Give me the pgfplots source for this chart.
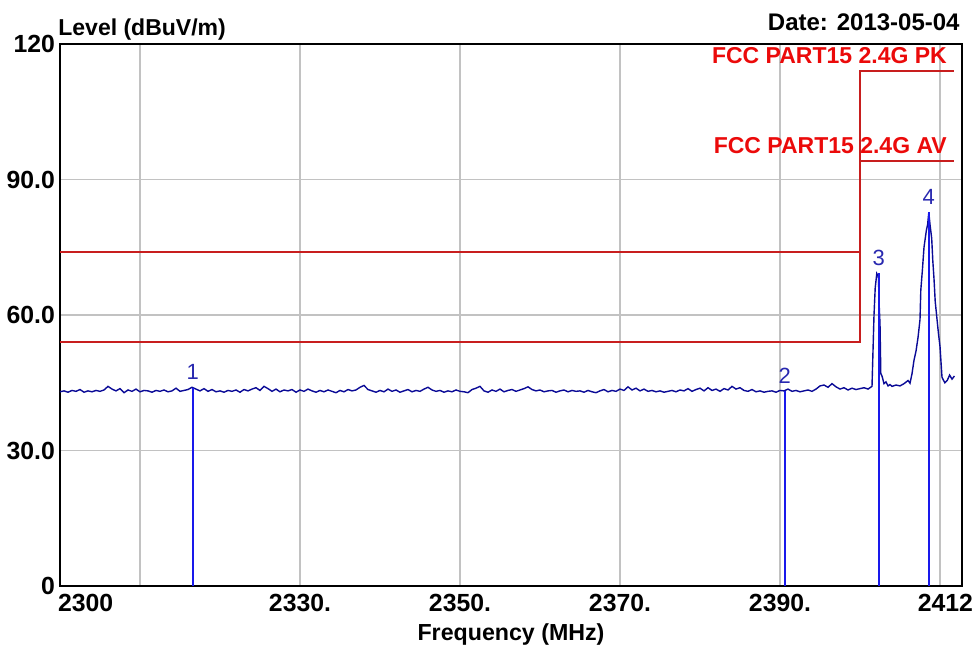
\documentclass[border=0pt]{standalone}
\usepackage{fontspec}
\setmainfont{Liberation Sans}
\usepackage{pgfplots}
\pgfplotsset{compat=1.18}
\usepackage{pgfplotstable}

\definecolor{tracec}{RGB}{10,10,150}
\definecolor{markc}{RGB}{25,25,235}
\definecolor{limitc}{RGB}{200,30,30}
\definecolor{fccred}{RGB}{235,10,10}
\definecolor{numc}{RGB}{40,40,175}

\pgfplotstableread{
f lv
2300.0 43.0
2300.5 43.2
2301.0 42.9
2301.5 43.3
2302.0 43.1
2302.5 43.5
2303.0 42.9
2303.5 43.2
2304.0 43.0
2304.5 43.3
2305.0 43.1
2305.5 43.4
2306.0 44.2
2306.5 43.6
2307.0 43.2
2307.5 43.7
2308.0 42.8
2308.5 43.4
2309.0 43.1
2309.5 43.6
2310.0 43.0
2310.5 43.3
2311.0 43.2
2311.5 42.9
2312.0 43.3
2312.5 43.1
2313.0 43.4
2313.5 43.0
2314.0 43.2
2314.5 43.8
2315.0 43.1
2315.5 43.3
2316.0 43.5
2316.5 44.0
2317.0 43.6
2317.5 43.2
2318.0 43.7
2318.5 43.1
2319.0 43.5
2319.5 43.0
2320.0 43.2
2320.5 42.9
2321.0 43.3
2321.5 43.1
2322.0 43.4
2322.5 42.9
2323.0 43.5
2323.5 43.2
2324.0 43.6
2324.5 43.9
2325.0 43.3
2325.5 44.2
2326.0 43.7
2326.5 43.1
2327.0 43.6
2327.5 43.0
2328.0 43.4
2328.5 43.2
2329.0 43.5
2329.5 42.9
2330.0 43.4
2330.5 43.1
2331.0 43.6
2331.5 43.2
2332.0 42.9
2332.5 43.3
2333.0 43.0
2333.5 43.4
2334.0 43.1
2334.5 42.8
2335.0 43.3
2335.5 43.0
2336.0 43.5
2336.5 43.2
2337.0 43.4
2337.5 44.0
2338.0 44.4
2338.5 43.5
2339.0 43.2
2339.5 42.9
2340.0 43.3
2340.5 43.0
2341.0 43.6
2341.5 43.1
2342.0 43.4
2342.5 42.9
2343.0 43.2
2343.5 43.5
2344.0 43.0
2344.5 43.3
2345.0 43.1
2345.5 43.6
2346.0 44.0
2346.5 43.4
2347.0 43.1
2347.5 43.3
2348.0 42.9
2348.5 43.2
2349.0 43.0
2349.5 43.4
2350.0 43.1
2350.5 43.0
2351.0 42.8
2351.5 43.5
2352.0 43.8
2352.5 44.2
2353.0 43.2
2353.5 42.9
2354.0 43.4
2354.5 43.1
2355.0 43.6
2355.5 43.0
2356.0 43.3
2356.5 43.5
2357.0 43.1
2357.5 43.4
2358.0 43.7
2358.5 44.1
2359.0 43.5
2359.5 43.2
2360.0 43.4
2360.5 43.0
2361.0 43.2
2361.5 43.3
2362.0 42.9
2362.5 43.2
2363.0 43.4
2363.5 43.0
2364.0 43.3
2364.5 43.1
2365.0 43.2
2365.5 42.9
2366.0 43.3
2366.5 43.0
2367.0 42.8
2367.5 43.2
2368.0 43.5
2368.5 43.0
2369.0 43.3
2369.5 43.1
2370.0 43.6
2370.5 43.3
2371.0 44.1
2371.5 43.4
2372.0 43.8
2372.5 43.2
2373.0 43.6
2373.5 43.1
2374.0 43.3
2374.5 43.0
2375.0 43.2
2375.5 42.9
2376.0 43.1
2376.5 43.3
2377.0 43.0
2377.5 43.4
2378.0 43.2
2378.5 43.7
2379.0 43.1
2379.5 43.5
2380.0 43.8
2380.5 43.2
2381.0 43.9
2381.5 43.3
2382.0 43.6
2382.5 43.1
2383.0 43.7
2383.5 43.4
2384.0 44.2
2384.5 43.6
2385.0 43.9
2385.5 43.3
2386.0 43.1
2386.5 43.5
2387.0 43.0
2387.5 43.2
2388.0 42.9
2388.5 43.1
2389.0 43.2
2389.5 42.9
2390.0 43.3
2390.5 43.2
2391.0 43.6
2391.5 43.1
2392.0 43.3
2392.5 43.0
2393.0 43.2
2393.5 43.4
2394.0 43.1
2394.5 43.6
2395.0 44.3
2395.5 44.5
2396.0 44.0
2396.5 44.8
2397.0 44.1
2397.5 43.6
2398.0 43.9
2398.5 43.4
2399.0 43.8
2399.5 43.5
2400.0 43.7
2400.5 43.9
2401.0 43.6
2401.5 44.2
2401.75 60.0
2401.9 66.0
2402.1 69.2
2402.3 68.5
2402.4 62.0
2402.5 58.0
2402.6 47.0
2402.75 46.5
2403.0 44.8
2403.25 45.2
2403.5 44.3
2403.75 44.6
2404.0 44.2
2404.5 44.5
2405.0 44.3
2405.5 44.8
2406.0 45.5
2406.25 44.9
2406.5 47.0
2406.75 50.0
2407.0 52.0
2407.25 55.0
2407.5 59.0
2407.6 65.5
2407.8 70.0
2408.0 75.0
2408.3 78.8
2408.45 80.0
2408.6 82.7
2408.75 80.0
2408.96 77.0
2409.1 72.0
2409.25 68.0
2409.4 63.0
2409.6 59.5
2409.8 56.0
2410.0 53.0
2410.25 46.2
2410.6 45.0
2410.9 45.5
2411.2 46.7
2411.5 45.8
2411.8 46.5
}\tracetab

\pgfplotstableread{
f lv lab
2316.6 43.9 1
2390.6 43.2 2
2402.35 69.2 3
2408.6 82.7 4
}\markertab

\begin{document}
\begin{tikzpicture}
\path[use as bounding box] (0,0) rectangle (489.5pt,322.5pt);
\begin{axis}[
  at={(30pt,29.5pt)}, anchor=south west, scale only axis,
  width=451pt, height=271pt,
  xmin=2300, xmax=2412.75, ymin=0, ymax=120,
  axis line style={black, line width=0.9pt},
  xtick={2310,2330,2350,2370,2390,2410},
  xticklabels={},
  extra x ticks={2300,2330,2350,2370,2390,2412.75},
  extra x tick labels={\makebox[0pt][l]{\kern-1pt 2300},2330.,2350.,2370.,2390.,\makebox[0pt][r]{2412\kern-5.5pt}},
  extra x tick style={grid=none},
  ytick={0,30,60,90,120},
  yticklabels={\raisebox{-1.5pt}{0},30.0,60.0,90.0,120},
  major tick length=0pt,
  grid=major,
  major grid style={line width=0.7pt, color=black!24},
  tick label style={font=\fontsize{12.4}{14}\selectfont\bfseries},
  yticklabel style={xshift=1pt},
  xticklabel style={yshift=-0.5pt},
  clip=false,
]
\addplot[limitc, line width=0.95pt] coordinates {(2300,74) (2400,74) (2400,114) (2411.7,114)};
\addplot[limitc, line width=0.95pt] coordinates {(2300,54) (2400,54) (2400,94) (2411.7,94)};
\addplot[tracec, line width=0.7pt] table[x=f, y=lv] {\tracetab};
\addplot[markc, ycomb, line width=0.8pt, mark=none,
  point meta=explicit symbolic, nodes near coords,
  nodes near coords style={anchor=south, inner sep=0pt, yshift=3.5pt, text=numc, font=\fontsize{11}{12}\selectfont}]
  table[x=f, y=lv, meta=lab] {\markertab};
\node[anchor=base east, inner sep=0pt, text=fccred, font=\fontsize{11.5}{12}\selectfont\bfseries] at (axis cs:2410.9,115.7) {FCC PART15 2.4G PK};
\node[anchor=base east, inner sep=0pt, text=fccred, font=\fontsize{11.5}{12}\selectfont\bfseries] at (axis cs:2410.9,95.8) {FCC PART15 2.4G AV};
\end{axis}
\node[anchor=base west, inner sep=0pt, font=\fontsize{11.5}{12}\selectfont\bfseries] at (29pt,305pt) {Level (dBuV/m)};
\node[anchor=base east, inner sep=0pt, font=\fontsize{12}{13}\selectfont\bfseries] at (480pt,307.2pt) {Date: 2013-05-04};
\node[anchor=base, inner sep=0pt, font=\fontsize{11.6}{12}\selectfont\bfseries] at (255.5pt,2.5pt) {Frequency (MHz)};
\end{tikzpicture}
\end{document}
